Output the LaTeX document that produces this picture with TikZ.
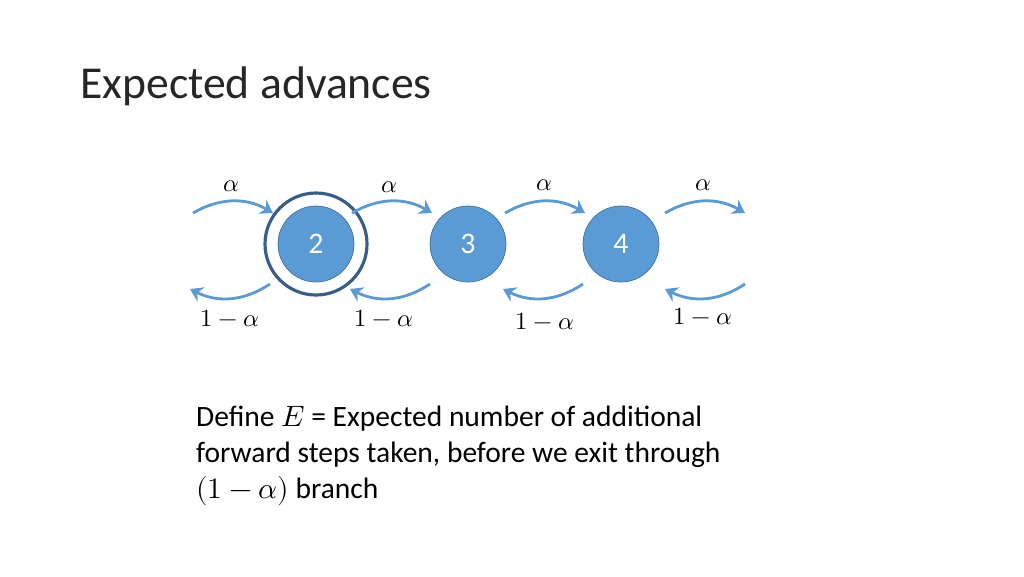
\documentclass[tikz,border=0pt]{standalone}
\usepackage{fontspec}
\setmainfont{Carlito}
\usepackage{unicode-math}
\setmathfont{Latin Modern Math}
\usetikzlibrary{positioning,arrows.meta}
\definecolor{stateblue}{HTML}{5B9BD5}
\definecolor{stateedge}{HTML}{41719C}
\definecolor{ringblue}{HTML}{385D8A}
\tikzset{
    state/.style={circle, fill=stateblue, draw=stateedge, minimum size=76*0.02cm, inner sep=0pt, text=white, font=\fontsize{17}{20}\selectfont},
    move/.style={draw=stateblue, line width=1.6pt, -{Stealth[length=7pt,width=9pt]}},
    lbl/.style={font=\fontsize{14}{17}\selectfont}
}
\begin{document}
\begin{tikzpicture}[x=0.02cm,y=-0.02cm]
    \useasboundingbox (0,0) rectangle (1024,576);
    \node[anchor=west, font=\fontsize{26}{30}\selectfont, text=black!85] (title) at (74,86) {Expected advances};

    \node[state] (s2) at (316,244) {2};
    \node[state] (s3) at (468,244) {3};
    \node[state] (s4) at (621,244) {4};
    \draw[draw=ringblue, line width=1.8pt] (s2) circle (51*0.02cm);

    % forward steps
    \coordinate (f1a) at (193,213); \coordinate (f1b) at (273,213);
    \coordinate (f2a) at (352,213); \coordinate (f2b) at (432,213);
    \coordinate (f3a) at (505,213); \coordinate (f3b) at (585,213);
    \coordinate (f4a) at (665,213); \coordinate (f4b) at (745,213);
    \draw[move] (f1a) to[bend left=30] (f1b);
    \draw[move] (f2a) to[bend left=30] (f2b);
    \draw[move] (f3a) to[bend left=30] (f3b);
    \draw[move] (f4a) to[bend left=30] (f4b);

    % backward steps
    \coordinate (b1a) at (270,284); \coordinate (b1b) at (190,289);
    \coordinate (b2a) at (430,284); \coordinate (b2b) at (350,289);
    \coordinate (b3a) at (583,284); \coordinate (b3b) at (503,289);
    \coordinate (b4a) at (745,284); \coordinate (b4b) at (665,289);
    \draw[move] (b1a) to[bend left=30] (b1b);
    \draw[move] (b2a) to[bend left=30] (b2b);
    \draw[move] (b3a) to[bend left=30] (b3b);
    \draw[move] (b4a) to[bend left=30] (b4b);

    \node[lbl] (a1) at (231,186) {$\alpha$};
    \node[lbl] (a2) at (389,187) {$\alpha$};
    \node[lbl] (a3) at (544,185) {$\alpha$};
    \node[lbl] (a4) at (703,185) {$\alpha$};
    \node[lbl] (r1) at (230,318) {$1-\alpha$};
    \node[lbl] (r2) at (384,318) {$1-\alpha$};
    \node[lbl] (r3) at (545,321) {$1-\alpha$};
    \node[lbl] (r4) at (703,316) {$1-\alpha$};

    \node[anchor=north west, align=left, font=\fontsize{16.8}{20.5}\selectfont] (def) at (190,400)
        {Define $E$ = Expected number of additional\\
         forward steps taken, before we exit through\\
         $(1-\alpha)$ branch};
\end{tikzpicture}
\end{document}
